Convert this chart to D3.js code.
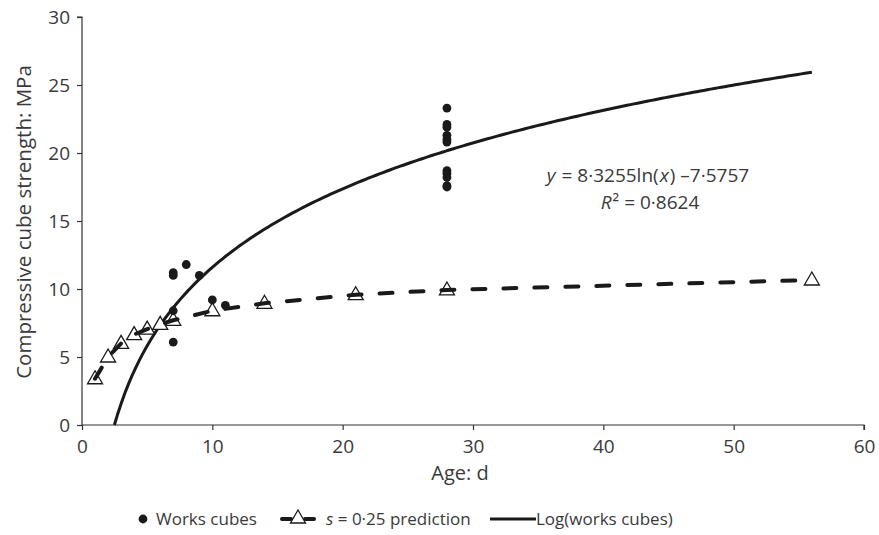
<!DOCTYPE html>
<html>
<head>
<meta charset="utf-8">
<script src="https://cdn.jsdelivr.net/npm/d3@7"></script>
<style>
  body { margin: 0; background: #fff; }
  svg { display: block; font-family: "Open Sans", "Noto Sans", sans-serif; }
</style>
</head>
<body>
<svg id="chart" width="879" height="535"></svg>
<script>
// works cubes (age in days, strength in MPa)
var cubeAge = [7, 7, 8, 9, 7, 7, 10, 11,
               28, 28, 28, 28, 28, 28, 28, 28, 28, 28, 28];
var cubeStrength = [11.2, 11.0, 11.8, 11.0, 8.4, 6.1, 9.2, 8.8,
                    23.3, 22.1, 21.9, 21.3, 21.0, 20.8, 18.7, 18.5, 18.2, 17.6, 17.5];

// s = 0.25 prediction
var predAge = [1, 2, 3, 4, 5, 6, 7, 10, 14, 21, 28, 56];
var predStrength = [3.4, 5.0, 6.0, 6.65, 7.05, 7.4, 7.7, 8.4, 8.95, 9.58, 9.93, 10.66];

// log trendline of works cubes, as given on the chart
var logA = 8.3255, logB = -7.5757, logEnd = 56;

var xTicks = [0, 10, 20, 30, 40, 50, 60];
var yTicks = [0, 5, 10, 15, 20, 25, 30];

var svg = d3.select("#chart"),
    ink = "#1a1a1a",
    textCol = "#3a3a3a";

var x = d3.scaleLinear().domain([0, 60]).range([82, 864]),
    y = d3.scaleLinear().domain([0, 30]).range([425, 17]);

// axes
var xAxis = svg.append("g")
    .attr("transform", "translate(0," + y(0) + ")")
    .call(d3.axisBottom(x).tickValues(xTicks).tickSize(5).tickPadding(10));
var yAxis = svg.append("g")
    .attr("transform", "translate(" + x(0) + ",0)")
    .call(d3.axisLeft(y).tickValues(yTicks).tickSize(5).tickPadding(7));

[xAxis, yAxis].forEach(function(g) {
    g.select(".domain").attr("stroke", "#333").attr("stroke-width", 1.2);
    g.selectAll(".tick line").attr("stroke", "#333").attr("stroke-width", 1.2);
    g.selectAll(".tick text")
        .attr("fill", textCol)
        .style("font-size", "19px")
        .style("font-family", "'Open Sans', 'Noto Sans', sans-serif");
});
xAxis.selectAll(".domain").attr("d", "M" + x(0) + ",0H" + x(60) + "V5");
yAxis.selectAll(".domain").attr("d", "M-5," + y(30) + "H0V" + (y(0) + 1));

// axis titles
svg.append("text")
    .attr("x", 460).attr("y", 480)
    .attr("text-anchor", "middle")
    .attr("fill", textCol).style("font-size", "20px")
    .text("Age: d");
svg.append("text")
    .attr("transform", "translate(31,222) rotate(-90)")
    .attr("text-anchor", "middle")
    .attr("fill", textCol).style("font-size", "20.5px")
    .text("Compressive cube strength: MPa");

// log trendline
var logStart = Math.exp(-logB / logA);
var logPts = d3.range(0, 201).map(function(i) {
    var t = logStart + (logEnd - logStart) * i / 200;
    return [t, logA * Math.log(t) + logB];
});
svg.append("path")
    .datum(logPts)
    .attr("fill", "none")
    .attr("stroke", ink)
    .attr("stroke-width", 3)
    .attr("d", d3.line().x(function(d) { return x(d[0]); }).y(function(d) { return y(Math.max(0, d[1])); }));

// prediction triangles
var triPath = "M0,-8L7.5,5L-7.5,5Z";
svg.append("g").selectAll("path")
    .data(predAge)
    .join("path")
    .attr("transform", function(d, i) { return "translate(" + x(d) + "," + y(predStrength[i]) + ")"; })
    .attr("d", triPath)
    .attr("fill", "#fff")
    .attr("stroke", ink)
    .attr("stroke-width", 1.3);

// prediction dashed line
svg.append("path")
    .datum(predAge)
    .attr("fill", "none")
    .attr("stroke", ink)
    .attr("stroke-width", 4)
    .attr("stroke-linecap", "round")
    .attr("stroke-dasharray", "13,18")
    .attr("d", d3.line().x(function(d) { return x(d); }).y(function(d, i) { return y(predStrength[i]); }));

// works cubes dots
svg.append("g").selectAll("circle")
    .data(cubeAge)
    .join("circle")
    .attr("cx", function(d) { return x(d); })
    .attr("cy", function(d, i) { return y(cubeStrength[i]); })
    .attr("r", 4.4)
    .attr("fill", ink);

// equation
var eq = svg.append("text")
    .attr("x", 648).attr("y", 182)
    .attr("text-anchor", "middle")
    .attr("fill", textCol).style("font-size", "19px");
eq.append("tspan").style("font-style", "italic").text("y");
eq.append("tspan").attr("dx", 1).text(" = 8\u00b73255ln(");
eq.append("tspan").attr("dx", 1).style("font-style", "italic").text("x");
eq.append("tspan").attr("dx", 1).text(") \u20137\u00b75757");

var r2 = svg.append("text")
    .attr("x", 650).attr("y", 209)
    .attr("text-anchor", "middle")
    .attr("fill", textCol).style("font-size", "19px");
r2.append("tspan").style("font-style", "italic").text("R");
r2.append("tspan").attr("dx", 1).text("\u00b2 = 0\u00b78624");

// legend
var ly = 519;
var legend = svg.append("g");
legend.append("circle").attr("cx", 143).attr("cy", ly).attr("r", 4.4).attr("fill", ink);
legend.append("text").attr("x", 156).attr("y", ly + 6)
    .attr("fill", textCol).style("font-size", "17px").text("Works cubes");

legend.append("line").attr("x1", 282).attr("x2", 291).attr("y1", ly).attr("y2", ly)
    .attr("stroke", ink).attr("stroke-width", 4).attr("stroke-linecap", "round");
legend.append("line").attr("x1", 305).attr("x2", 314).attr("y1", ly).attr("y2", ly)
    .attr("stroke", ink).attr("stroke-width", 4).attr("stroke-linecap", "round");
legend.append("path").attr("transform", "translate(298," + (ly - 1) + ")")
    .attr("d", triPath).attr("fill", "#fff").attr("stroke", ink).attr("stroke-width", 1.3);
var lt = legend.append("text").attr("x", 326).attr("y", ly + 6)
    .attr("fill", textCol).style("font-size", "17px");
lt.append("tspan").style("font-style", "italic").text("s");
lt.append("tspan").text(" = 0\u00b725 prediction");

legend.append("line").attr("x1", 490).attr("x2", 536).attr("y1", ly).attr("y2", ly)
    .attr("stroke", ink).attr("stroke-width", 3);
legend.append("text").attr("x", 536).attr("y", ly + 6)
    .attr("fill", textCol).style("font-size", "17px").text("Log(works cubes)");
</script>
</body>
</html>
